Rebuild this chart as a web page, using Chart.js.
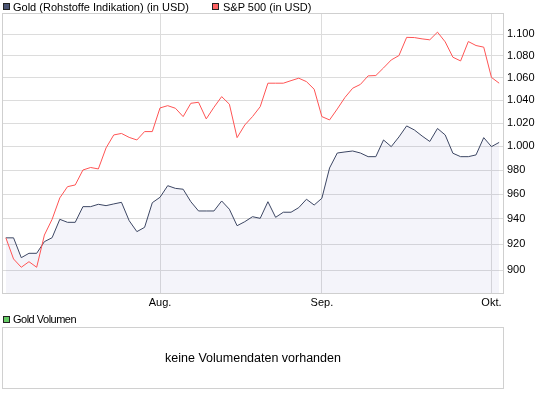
<!DOCTYPE html>
<html>
<head>
<meta charset="utf-8">
<script src="https://cdn.jsdelivr.net/npm/chart.js@4/dist/chart.umd.min.js"></script>
<style>
  body { margin: 0; width: 545px; height: 395px; background: #fff; position: relative; overflow: hidden;
         font-family: "Liberation Sans", Arial, sans-serif; font-size: 11px; color: #000; }
  .abs { position: absolute; white-space: nowrap; }
  .sq { position: absolute; width: 7px; height: 7px; box-sizing: border-box; border: 1px solid #222; }
  .txt { position: absolute; line-height: 14px; white-space: nowrap; }
  #chart { position: absolute; left: 0; top: 0; }
  #volBox { position: absolute; left: 2px; top: 327px; width: 502px; height: 62px; box-sizing: border-box;
            border: 1px solid #d0d0d0; display: flex; align-items: center; justify-content: center; font-size: 12.5px; }
</style>
</head>
<body>
<canvas id="chart" width="545" height="315"></canvas>

<div class="sq" style="left:3px;top:3px;background:#4b5574"></div>
<div class="txt" style="left:13px;top:0px">Gold (Rohstoffe Indikation) (in USD)</div>
<div class="sq" style="left:212px;top:3px;background:#ff6464"></div>
<div class="txt" style="left:223px;top:0px">S&amp;P 500 (in USD)</div>

<div class="sq" style="left:3px;top:316px;background:#66cc66"></div>
<div class="txt" style="left:13px;top:312px;letter-spacing:-0.5px">Gold Volumen</div>
<div id="volBox">keine Volumendaten vorhanden</div>

<script>
// trading days, 06.07.2009 - 02.10.2009
const dates = [
  '2009-07-06','2009-07-07','2009-07-08','2009-07-09','2009-07-10',
  '2009-07-13','2009-07-14','2009-07-15','2009-07-16','2009-07-17',
  '2009-07-20','2009-07-21','2009-07-22','2009-07-23','2009-07-24',
  '2009-07-27','2009-07-28','2009-07-29','2009-07-30','2009-07-31',
  '2009-08-03','2009-08-04','2009-08-05','2009-08-06','2009-08-07',
  '2009-08-10','2009-08-11','2009-08-12','2009-08-13','2009-08-14',
  '2009-08-17','2009-08-18','2009-08-19','2009-08-20','2009-08-21',
  '2009-08-24','2009-08-25','2009-08-26','2009-08-27','2009-08-28',
  '2009-08-31','2009-09-01','2009-09-02','2009-09-03','2009-09-04',
  '2009-09-07','2009-09-08','2009-09-09','2009-09-10','2009-09-11',
  '2009-09-14','2009-09-15','2009-09-16','2009-09-17','2009-09-18',
  '2009-09-21','2009-09-22','2009-09-23','2009-09-24','2009-09-25',
  '2009-09-28','2009-09-29','2009-09-30','2009-10-01','2009-10-02'
];

const goldValues = [
  925, 925, 909.5, 912.9, 912.9, 922.0, 925.1, 939.7, 937.3, 937.3,
  949.9, 949.9, 951.8, 950.7, 952.1, 953.4, 938.6, 929.9, 933.3, 953.1,
  957.5, 967.0, 964.8, 964.1, 953.9, 946.4, 946.4, 946.4, 954.5, 947.8,
  934.6, 937.8, 941.8, 940.5, 953.9, 941.3, 945.4, 945.4, 949.1, 955.9,
  951.2, 956.7, 981.7, 994.3, 995.2, 996.0, 994.3, 991.2, 991.2, 1005.4,
  999.7, 1008.0, 1017.5, 1014.0, 1008.8, 1004.1, 1015.3, 1009.7, 994.1, 991.2,
  991.2, 992.7, 1007.4, 999.7, 1003.3
];

// S&P 500, rebased to the gold start value
const spxValues = [
  925, 908.5, 902.1, 906.4, 902.1, 927.2, 939.7, 957.0, 966.2, 967.6,
  980.0, 982.1, 980.9, 998.6, 1009.7, 1011.0, 1007.6, 1005.4, 1012.6, 1012.6,
  1033.2, 1035.2, 1032.9, 1025.6, 1037.3, 1038.2, 1023.6, 1033.8, 1043.2, 1036.5,
  1007.4, 1018.3, 1025.6, 1034.3, 1055.2, 1055.2, 1055.2, 1057.5, 1059.7, 1056.6,
  1049.8, 1025.6, 1022.7, 1032.3, 1042.5, 1050.7, 1054.1, 1061.8, 1062.1, 1069.0,
  1076.3, 1080.3, 1097.2, 1097.0, 1095.8, 1094.9, 1102.1, 1093.0, 1078.8, 1075.4,
  1093.3, 1089.6, 1088.1, 1060.4, 1055.2
];

const yTicks = [900, 920, 940, 960, 980, 1000, 1020, 1040, 1060, 1080, 1100];
const monthDates = ['2009-08-03', '2009-09-01', '2009-10-01'];
const monthLabels = ['Aug.', 'Sep.', 'Okt.'];

const monthIdx = monthDates.map(d => dates.indexOf(d));

function fmt(v) {
  if (v >= 1000) return Math.floor(v / 1000) + '.' + String(v % 1000).padStart(3, '0');
  return String(v);
}

const frame = {
  id: 'frame',
  beforeDatasetsDraw(chart) {
    const { ctx, chartArea: a } = chart;
    ctx.save();
    ctx.strokeStyle = '#cfcfcf';
    ctx.lineWidth = 1;
    ctx.strokeRect(a.left + 0.5, a.top + 0.5, a.right - a.left, a.bottom - a.top);
    ctx.restore();
  }
};

const tickFont = { family: '"Liberation Sans", Arial, sans-serif', size: 11 };

new Chart(document.getElementById('chart').getContext('2d'), {
  type: 'line',
  data: {
    datasets: [{
      label: 'Gold (Rohstoffe Indikation) (in USD)',
      data: goldValues.map((v, i) => ({ x: i, y: v })),
      borderColor: '#3c4663',
      backgroundColor: 'rgba(60, 75, 170, 0.06)',
      fill: 'start',
      borderWidth: 1,
      pointRadius: 0,
      tension: 0,
      order: 1
    }, {
      label: 'S&P 500 (in USD)',
      data: spxValues.map((v, i) => ({ x: i, y: v })),
      borderColor: '#ff5454',
      fill: false,
      borderWidth: 1,
      pointRadius: 0,
      tension: 0,
      order: 0
    }]
  },
  options: {
    responsive: false,
    animation: false,
    layout: { padding: { left: 2, top: 13, right: 0, bottom: 0 } },
    plugins: { legend: { display: false }, tooltip: { enabled: false } },
    scales: {
      x: {
        type: 'linear',
        min: -0.5,
        max: dates.length - 0.5,
        bounds: 'data',
        afterBuildTicks: s => { s.ticks = monthIdx.map(v => ({ value: v })); },
        afterFit: s => { s.height = 22; },
        grid: { color: '#dcdcdc', drawTicks: false },
        border: { color: '#cfcfcf' },
        ticks: {
          autoSkip: false, maxRotation: 0, padding: 3, color: '#000', font: tickFont,
          callback: v => monthLabels[monthIdx.indexOf(v)]
        }
      },
      y: {
        type: 'logarithmic',
        position: 'right',
        min: 882.55,
        max: 1120.2,
        bounds: 'data',
        afterBuildTicks: s => { s.ticks = yTicks.map(v => ({ value: v })); },
        afterFit: s => { s.width = 42; },
        grid: { color: '#dcdcdc', drawTicks: false },
        border: { color: '#cfcfcf' },
        ticks: { padding: 4, color: '#000', font: tickFont, callback: v => fmt(v) }
      }
    }
  },
  plugins: [frame]
});
</script>
</body>
</html>
